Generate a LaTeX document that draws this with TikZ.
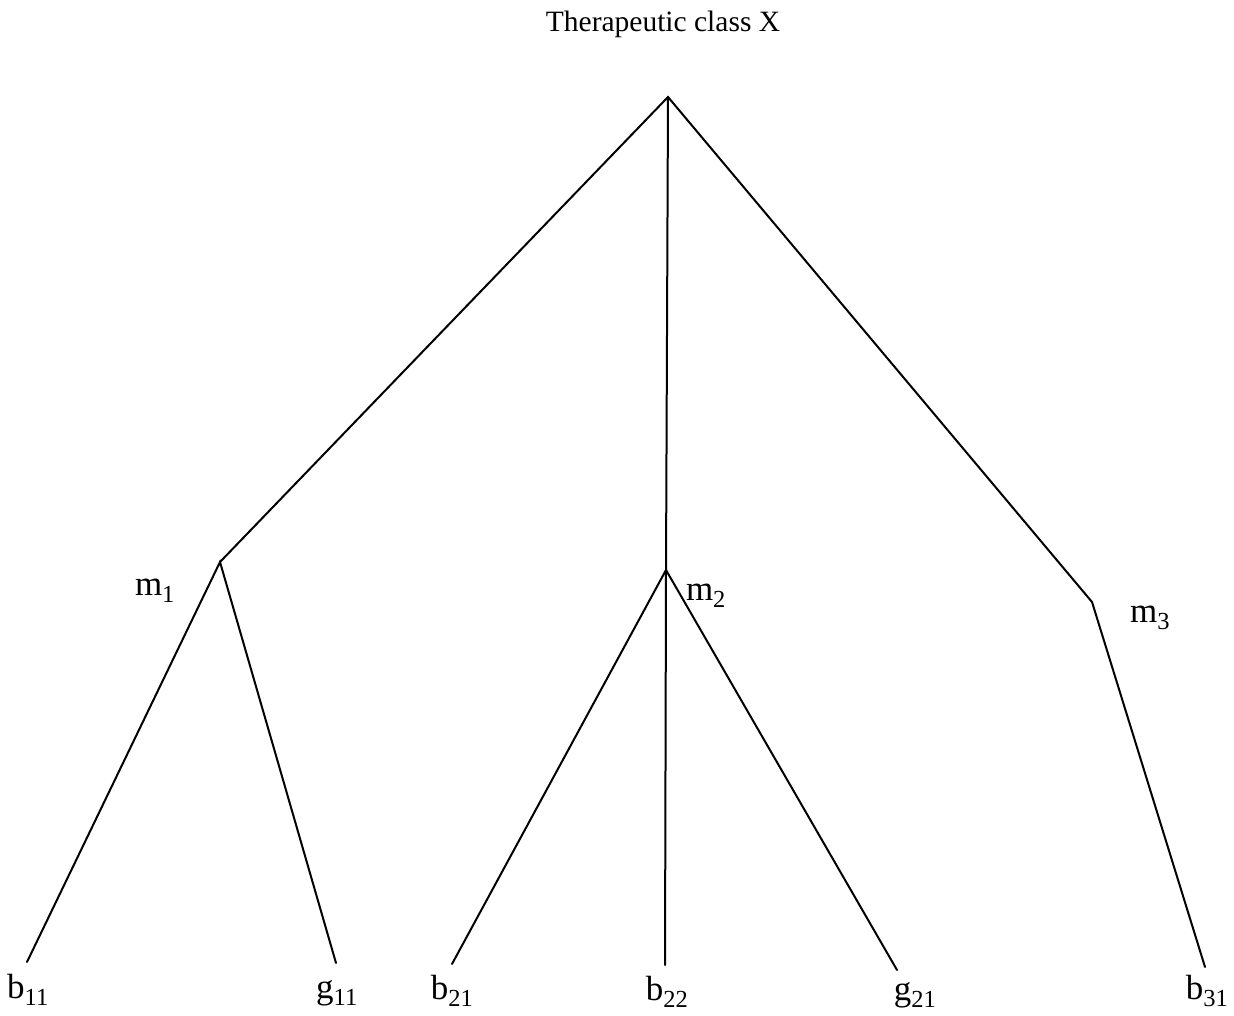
\documentclass[tikz,border=0pt]{standalone}
\usepackage{fontspec}
\setmainfont{Liberation Serif}
\usetikzlibrary{positioning}
\tikzset{every picture/.style={line width=2pt}}

\begin{document}
\begin{tikzpicture}[x=1pt, y=-1pt, branch/.style={draw, line cap=round},
        lbl/.style={font=\fontsize{35}{40}\selectfont, inner sep=0pt, anchor=base}]
        \useasboundingbox (0,0) rectangle (1234,1016);
        \node[anchor=base, inner sep=0pt, font=\fontsize{29.5}{33}\selectfont] (title) at (663,32) {Therapeutic class X};
        % branch points
        \coordinate (root) at (668,97);
        \coordinate (m1) at (220,562);
        \coordinate (m2) at (666,570);
        \coordinate (m3) at (1092,602);
        % leaf ends
        \coordinate (e11) at (27,962);
        \coordinate (f11) at (336,963);
        \coordinate (e21) at (452,964);
        \coordinate (e22) at (665,965);
        \coordinate (f21) at (897,970);
        \coordinate (e31) at (1205,967);
        \node[lbl] (m1l) at (155,595) {m\textsubscript{1}};
        \node[lbl] (m2l) at (706,600) {m\textsubscript{2}};
        \node[lbl] (m3l) at (1150,622) {m\textsubscript{3}};
        \node[lbl] (b11) at (28,998)  {b\textsubscript{11}};
        \node[lbl] (g11) at (337,998) {g\textsubscript{11}};
        \node[lbl] (b21) at (452,999) {b\textsubscript{21}};
        \node[lbl] (b22) at (667,1000) {b\textsubscript{22}};
        \node[lbl] (g21) at (915,1000) {g\textsubscript{21}};
        \node[lbl] (b31) at (1207,999) {b\textsubscript{31}};
        \draw[branch] (m1) -- (root) -- (m3);
        \draw[branch] (root) -- (m2);
        \draw[branch] (e11) -- (m1) -- (f11);
        \draw[branch] (e21) -- (m2) -- (f21);
        \draw[branch] (m2) -- (e22);
        \draw[branch] (m3) -- (e31);
    \end{tikzpicture}
\end{document}
